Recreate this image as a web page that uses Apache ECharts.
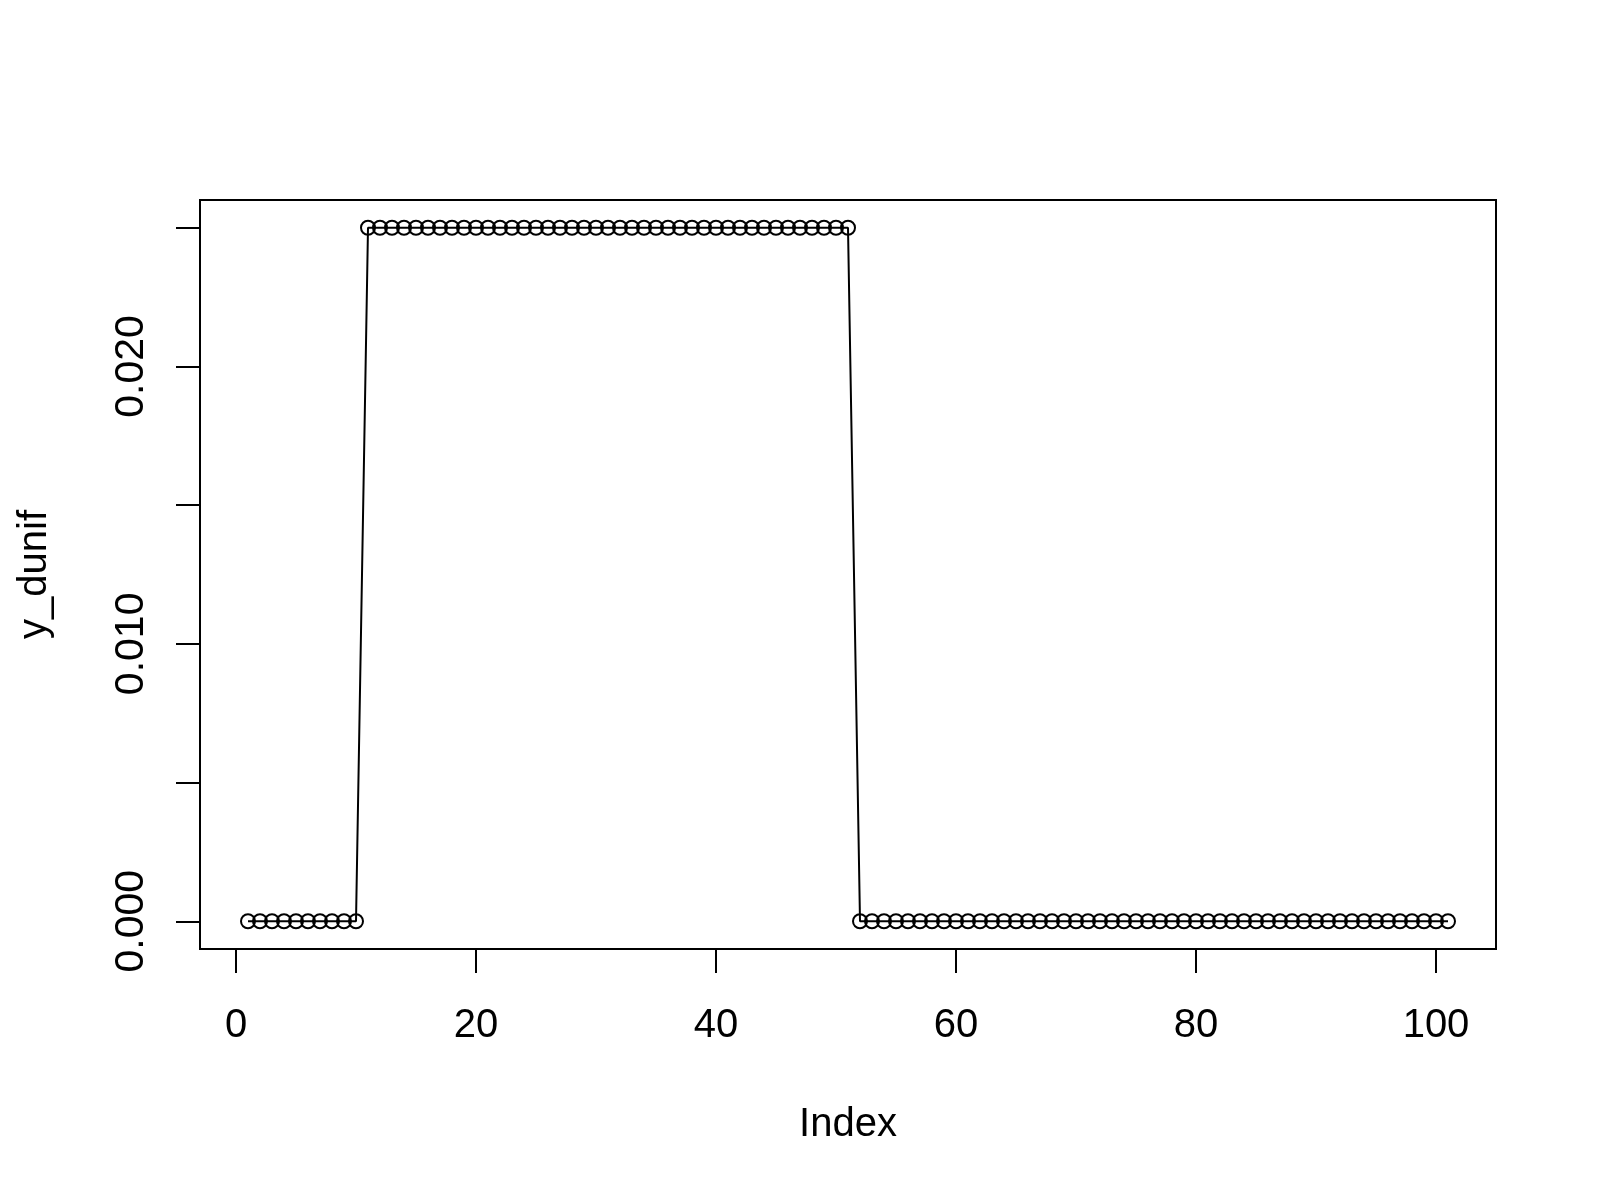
<!DOCTYPE html>
<html>
<head>
<meta charset="utf-8">
<title>y_dunif</title>
<script src="https://cdn.jsdelivr.net/npm/echarts@6/dist/echarts.min.js"></script>
<style>
  html, body { margin: 0; padding: 0; background: #fff; }
  #chart { width: 1600px; height: 1200px; }
</style>
</head>
<body>
<div id="chart"></div>
<script>
// dunif values plotted against their index
const yDunif = [
  0, 0, 0, 0, 0, 0, 0, 0, 0, 0,
  0.025, 0.025, 0.025, 0.025, 0.025, 0.025, 0.025, 0.025, 0.025, 0.025,
  0.025, 0.025, 0.025, 0.025, 0.025, 0.025, 0.025, 0.025, 0.025, 0.025,
  0.025, 0.025, 0.025, 0.025, 0.025, 0.025, 0.025, 0.025, 0.025, 0.025,
  0.025, 0.025, 0.025, 0.025, 0.025, 0.025, 0.025, 0.025, 0.025, 0.025,
  0.025, 0, 0, 0, 0, 0, 0, 0, 0, 0,
  0, 0, 0, 0, 0, 0, 0, 0, 0, 0,
  0, 0, 0, 0, 0, 0, 0, 0, 0, 0,
  0, 0, 0, 0, 0, 0, 0, 0, 0, 0,
  0, 0, 0, 0, 0, 0, 0, 0, 0, 0,
  0
]
const xTicks = [0, 20, 40, 60, 80, 100]
const yTicks = [0, 0.005, 0.010, 0.015, 0.020, 0.025]
const yLabels = [0, 0.010, 0.020]

const index = yDunif.map((_, i) => i + 1)

const font = 'Liberation Sans, Arial, sans-serif'
const chart = echarts.init(document.getElementById('chart'))

chart.setOption({
  animation: false,
  backgroundColor: '#fff',
  grid: {
    left: 200,
    top: 200,
    width: 1296,
    height: 749,
    show: true,
    borderColor: '#000',
    borderWidth: 2,
    backgroundColor: 'transparent'
  },
  xAxis: {
    type: 'value',
    min: -3,
    max: 105,
    name: 'Index',
    nameLocation: 'middle',
    nameGap: 156,
    nameTextStyle: { color: '#000', fontSize: 40, fontFamily: font },
    axisLine: { show: false, onZero: false },
    splitLine: { show: false },
    axisTick: {
      show: true,
      length: 24,
      customValues: xTicks,
      lineStyle: { color: '#000', width: 2 }
    },
    axisLabel: {
      customValues: xTicks,
      margin: 57,
      color: '#000',
      fontSize: 40,
      fontFamily: font
    }
  },
  yAxis: {
    type: 'value',
    min: -0.001,
    max: 0.026,
    name: 'y_dunif',
    nameLocation: 'middle',
    nameGap: 145,
    nameTextStyle: { color: '#000', fontSize: 40, fontFamily: font },
    axisLine: { show: false, onZero: false },
    splitLine: { show: false },
    axisTick: {
      show: true,
      length: 24,
      customValues: yTicks,
      lineStyle: { color: '#000', width: 2 }
    },
    axisLabel: {
      customValues: yLabels,
      rotate: 90,
      margin: 48,
      color: '#000',
      fontSize: 41,
      fontFamily: font,
      formatter: v => v.toFixed(3)
    }
  },
  series: [{
    type: 'line',
    data: index.map((x, i) => [x, yDunif[i]]),
    symbol: 'circle',
    symbolSize: 14,
    showAllSymbol: true,
    lineStyle: { color: '#000', width: 2 },
    itemStyle: { color: 'rgba(0,0,0,0)', borderColor: '#000', borderWidth: 2 },
    emphasis: { disabled: true },
    z: 3
  }]
})
</script>
</body>
</html>
